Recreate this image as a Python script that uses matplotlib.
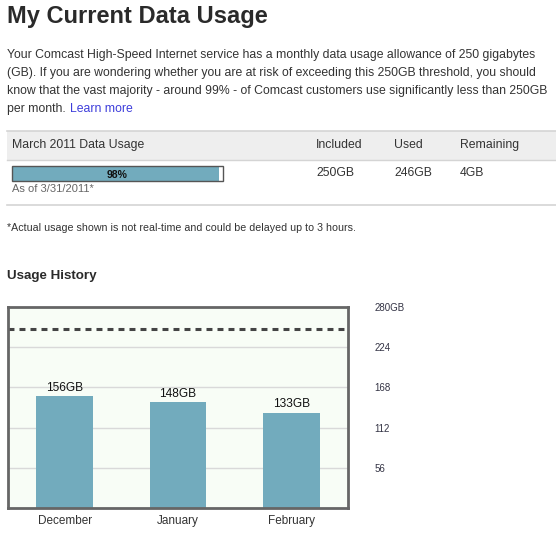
import matplotlib
matplotlib.use("Agg")
import matplotlib.pyplot as plt
from matplotlib.patches import Rectangle
from matplotlib.lines import Line2D

plt.rcParams['font.family'] = ['Liberation Sans', 'DejaVu Sans']

# ---- data ----
months = ["December", "January", "February"]
usage_gb = [156, 148, 133]
allowance_gb = 250
tick_values = [56, 112, 168, 224, 280]
tick_labels = ["56", "112", "168", "224", "280GB"]
current_month = "March 2011 Data Usage"
included_gb = 250
used_gb = 246
remaining_gb = 4
pct_used = 98
as_of = "As of 3/31/2011*"

W, H = 556, 533
fig = plt.figure(figsize=(W / 100, H / 100), dpi=100)
fig.patch.set_facecolor("white")

TXT = "#333333"
PF = 8.85  # paragraph font size


def fx(x):
    return x / W


def fy(y):
    return 1 - y / H


def text(x, y, s, **kw):
    kw.setdefault("color", TXT)
    kw.setdefault("va", "center")
    kw.setdefault("ha", "left")
    return fig.text(fx(x), fy(y), s, **kw)


# Title
text(7, 16, "My Current Data Usage", fontsize=17, fontweight="bold", color="#2a2a2a")

# Paragraph
para = [
    "Your Comcast High-Speed Internet service has a monthly data usage allowance of 250 gigabytes",
    "(GB). If you are wondering whether you are at risk of exceeding this 250GB threshold, you should",
    "know that the vast majority - around 99% - of Comcast customers use significantly less than 250GB",
]
for i, line in enumerate(para):
    text(7, 55 + 18 * i, line, fontsize=PF)
t_pm = text(7, 109, "per month. ", fontsize=PF)
renderer = fig.canvas.get_renderer()
bb = t_pm.get_window_extent(renderer=renderer)
text(bb.x1 + 1, 109, "Learn more", fontsize=PF, color="#3d3ddb")

# Table header band
fig.patches.append(Rectangle((fx(7), fy(159.5)), fx(556 - 7), 29 / H,
                             transform=fig.transFigure, facecolor="#eeeeee",
                             edgecolor="none", zorder=0))
fig.lines.append(Line2D([fx(7), 1], [fy(130.5), fy(130.5)], transform=fig.transFigure,
                        color="#d4d4d4", lw=1.2))
fig.lines.append(Line2D([fx(7), 1], [fy(159.5), fy(159.5)], transform=fig.transFigure,
                        color="#d4d4d4", lw=1.0))
text(12, 145, current_month, fontsize=PF)
text(316, 145, "Included", fontsize=PF)
text(394, 145, "Used", fontsize=PF)
text(460, 145, "Remaining", fontsize=PF)

# progress bar
bx0, bx1, by0, by1 = 12, 223, 166, 181
fig.patches.append(Rectangle((fx(bx0), fy(by1)), (bx1 - bx0) / W, (by1 - by0) / H,
                             transform=fig.transFigure, facecolor="white",
                             edgecolor="none"))
fig.patches.append(Rectangle((fx(bx0), fy(by1)), (bx1 - bx0) * pct_used / 100 / W, (by1 - by0) / H,
                             transform=fig.transFigure, facecolor="#72abbd",
                             edgecolor="none"))
fig.patches.append(Rectangle((fx(bx0), fy(by1)), (bx1 - bx0) / W, (by1 - by0) / H,
                             transform=fig.transFigure, facecolor="none",
                             edgecolor="#555555", lw=1.0))
text((bx0 + bx1) / 2, 174.5, f"{pct_used}%", fontsize=7.5, fontweight="bold",
     color="#111111", ha="center")
text(12, 189, as_of, fontsize=8, color="#666666")
text(316, 173.5, f"{included_gb}GB", fontsize=PF)
text(394, 173.5, f"{used_gb}GB", fontsize=PF)
text(460, 173.5, f"{remaining_gb}GB", fontsize=PF)
fig.lines.append(Line2D([fx(7), 1], [fy(204.5), fy(204.5)], transform=fig.transFigure,
                        color="#d4d4d4", lw=1.2))

text(7, 228, "*Actual usage shown is not real-time and could be delayed up to 3 hours.",
     fontsize=7.7)

text(7, 276, "Usage History", fontsize=9.6, fontweight="bold", color="#2a2a2a")

# ---- chart ----
ax_l, ax_r, ax_t, ax_b = 8, 348, 307, 508
ax = fig.add_axes([fx(ax_l), fy(ax_b), (ax_r - ax_l) / W, (ax_b - ax_t) / H])
ax.set_facecolor("#f8fdf6")
x = list(range(len(months)))
ax.bar(x, usage_gb, width=0.5, color="#72abbd", zorder=3)
for xi, v in zip(x, usage_gb):
    ax.text(xi, v + 3, f"{v}GB", ha="center", va="bottom", fontsize=8.6,
            color="#111111", zorder=4)
ax.axhline(allowance_gb, color="#444444", lw=2.2, ls=(0, (1.95, 1.65)), zorder=4)
ax.set_xlim(-0.5, 2.5)
ax.set_ylim(0, 280)
ax.set_xticks(x)
ax.set_xticklabels(months, fontsize=8.5, color=TXT)
ax.tick_params(axis="x", length=0, pad=5)
ax.yaxis.tick_right()
ax.set_yticks(tick_values)
ax.set_yticklabels(tick_labels, fontsize=7, color="#333344")
ax.tick_params(axis="y", length=0, pad=19)
for v in tick_values[:-1]:
    ax.axhline(v, color="#d9d9d9", lw=1.0, zorder=1)
for s in ax.spines.values():
    s.set_color("#666666")
    s.set_linewidth(2.0)
    s.set_zorder(5)

fig.savefig("out.png", dpi=100)
